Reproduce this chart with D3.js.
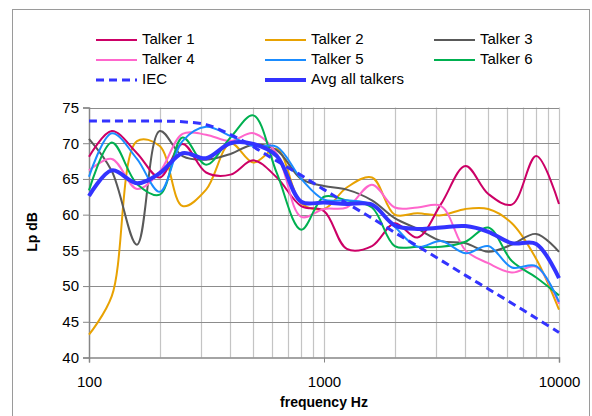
<!DOCTYPE html>
<html>
<head>
<meta charset="utf-8">
<script src="https://cdn.jsdelivr.net/npm/d3@7"></script>
<style>
  body { margin: 0; background: #fff; }
  text { font-family: "Liberation Sans", Arial, sans-serif; }
</style>
</head>
<body>
<svg id="chart" width="592" height="416"></svg>
<script>
// 1/3 octave band centres
const freqs = [100, 125, 160, 200, 250, 315, 400, 500, 630, 800, 1000, 1250, 1600, 2000, 2500, 3150, 4000, 5000, 6300, 8000, 10000];

const talker1 = [68.1, 71.7, 68.6, 65.2, 69.9, 65.9, 65.6, 67.6, 65.2, 61.2, 60.5, 55.2, 55.6, 58.8, 56.8, 61.5, 66.8, 62.9, 61.4, 68.2, 61.5];
const talker2 = [43.2, 48.6, 70.3, 69.6, 61.2, 63.5, 70.0, 67.3, 69.2, 61.6, 60.8, 63.8, 65.2, 60.0, 60.2, 59.9, 60.8, 60.8, 58.8, 53.8, 46.7];
const talker3 = [70.6, 66.1, 55.8, 71.7, 68.2, 67.7, 68.5, 69.8, 69.0, 65.0, 64.0, 63.5, 62.0, 59.5, 58.0, 56.3, 56.0, 54.8, 55.8, 57.3, 54.8];
const talker4 = [66.2, 67.8, 63.6, 66.0, 71.3, 71.2, 70.3, 71.4, 68.5, 59.7, 60.8, 61.0, 64.2, 61.0, 61.0, 61.2, 55.0, 53.2, 51.9, 52.7, 47.5];
const talker5 = [65.3, 71.4, 67.8, 63.2, 70.3, 72.3, 71.0, 69.6, 69.5, 65.0, 62.1, 62.0, 61.4, 58.3, 55.5, 56.3, 54.6, 55.6, 52.6, 52.8, 47.8];
const talker6 = [63.4, 70.1, 64.3, 62.8, 70.8, 67.0, 70.8, 73.9, 65.8, 57.9, 62.5, 62.0, 61.0, 55.6, 55.5, 55.5, 56.2, 58.2, 53.5, 51.2, 48.7];
const iec     = [73.1, 73.1, 73.1, 73.1, 73.0, 72.6, 71.2, 69.5, 67.5, 65.5, 63.5, 61.6, 59.5, 57.5, 55.6, 53.6, 51.5, 49.6, 47.6, 45.5, 43.5];
const avgAll  = [62.6, 66.2, 64.4, 65.8, 68.6, 67.9, 70.0, 69.9, 68.2, 61.8, 61.7, 61.5, 61.4, 58.5, 58.0, 58.2, 58.4, 57.6, 56.0, 55.9, 51.1];

const seriesNames = ["Talker 1", "Talker 2", "Talker 3", "Talker 4", "Talker 5", "Talker 6", "IEC", "Avg all talkers"];
const seriesValues = [talker1, talker2, talker3, talker4, talker5, talker6, iec, avgAll];
const seriesColors = ["#cc0066", "#e8a202", "#595959", "#ff66cc", "#1a8cff", "#00b050", "#3333ff", "#3333ff"];

const xMajor = [100, 1000, 10000];
const xGrid = [200, 300, 400, 500, 600, 700, 800, 900, 1000, 2000, 3000, 4000, 5000, 6000, 7000, 8000, 9000, 10000];
const yTicks = [40, 45, 50, 55, 60, 65, 70, 75];

const svg = d3.select("#chart");

// outer chart border
svg.append("rect")
    .attr("x", 12.5).attr("y", 9.5)
    .attr("width", 577).attr("height", 430)
    .attr("fill", "#fff")
    .attr("stroke", "#9a9a9a")
    .attr("stroke-width", 1);

const x = d3.scaleLog().domain([100, 10000]).range([89, 559]);
const y = d3.scaleLinear().domain([40, 75]).range([357.5, 107.5]);

// gridlines
svg.append("g").selectAll("line").data(xGrid).join("line")
    .attr("x1", d => Math.round(x(d)) + 0.5).attr("x2", d => Math.round(x(d)) + 0.5)
    .attr("y1", y(75)).attr("y2", y(40))
    .attr("stroke", "#c4c4c4").attr("stroke-width", 1.2);
svg.append("g").selectAll("line").data(yTicks.slice(1)).join("line")
    .attr("x1", x(100)).attr("x2", x(10000))
    .attr("y1", d => Math.round(y(d)) + 0.5).attr("y2", d => Math.round(y(d)) + 0.5)
    .attr("stroke", "#8c8c8c").attr("stroke-width", 1);

// axes
const yAxis = svg.append("g")
    .attr("transform", `translate(${x(100)},0)`)
    .call(d3.axisLeft(y).tickValues(yTicks).tickSize(6).tickPadding(4).tickFormat(d3.format("d")));
const xAxis = svg.append("g")
    .attr("transform", `translate(0,${y(40)})`)
    .call(d3.axisBottom(x).tickValues(xMajor).tickSize(5).tickPadding(14).tickFormat(d3.format("d")));
[yAxis, xAxis].forEach(a => {
    a.select(".domain").attr("stroke", "#868686").attr("stroke-width", 1.5);
    a.selectAll(".tick line").attr("stroke", "#868686");
    a.selectAll(".tick text").attr("fill", "#000").attr("font-size", 15)
        .attr("font-family", "'Liberation Sans', Arial, sans-serif");
});

// axis titles
svg.append("text")
    .attr("x", 324).attr("y", 407)
    .attr("text-anchor", "middle")
    .attr("font-size", 14).attr("font-weight", "bold")
    .text("frequency Hz");
svg.append("text")
    .attr("transform", "translate(37,232) rotate(-90)")
    .attr("text-anchor", "middle")
    .attr("font-size", 14).attr("font-weight", "bold")
    .text("Lp dB");

// curves
const line = d3.line()
    .x((d, i) => x(freqs[i]))
    .y(d => y(d))
    .curve(d3.curveCatmullRom.alpha(0.5));

const drawOrder = [1, 2, 0, 3, 5, 4, 6, 7];
drawOrder.forEach(i => {
    const path = svg.append("path")
        .datum(seriesValues[i])
        .attr("d", line)
        .attr("fill", "none")
        .attr("stroke", seriesColors[i])
        .attr("stroke-linejoin", "round");
    if (i === 6) path.attr("stroke-width", 3).attr("stroke-dasharray", "8,5");
    else if (i === 7) path.attr("stroke-width", 4);
    else path.attr("stroke-width", 2);
});

// legend
const legend = svg.append("g");
seriesNames.forEach((name, i) => {
    const col = i % 3, row = Math.floor(i / 3);
    const lx = 96 + col * 169, ly = 40 + row * 20;
    const l = legend.append("line")
        .attr("x1", lx).attr("x2", lx + 41)
        .attr("y1", ly).attr("y2", ly)
        .attr("stroke", seriesColors[i]);
    if (i === 6) l.attr("stroke-width", 3).attr("stroke-dasharray", "8,5");
    else if (i === 7) l.attr("stroke-width", 4);
    else l.attr("stroke-width", 2);
    legend.append("text")
        .attr("x", lx + 46).attr("y", ly)
        .attr("dominant-baseline", "middle")
        .attr("font-size", 15)
        .text(name);
});
</script>
</body>
</html>
